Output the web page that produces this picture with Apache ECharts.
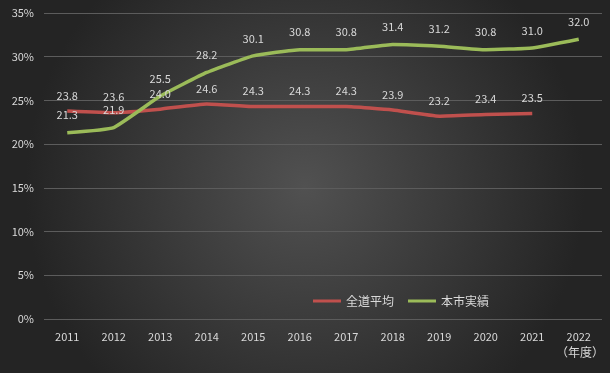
<!DOCTYPE html>
<html><head><meta charset="utf-8">
<script src="https://cdn.jsdelivr.net/npm/echarts@6/dist/echarts.min.js"></script>
<style>html,body{margin:0;padding:0;background:#2a2a2a}#c{width:610px;height:373px}</style>
</head><body><div id="c"></div>
<script>
const categories = ['2011','2012','2013','2014','2015','2016','2017','2018','2019','2020','2021','2022'];
const prefAvg = [23.8,23.6,24.0,24.6,24.3,24.3,24.3,23.9,23.2,23.4,23.5,null];
const cityActual = [21.3,21.9,25.5,28.2,30.1,30.8,30.8,31.4,31.2,30.8,31.0,32.0];
const yTicks = [0,5,10,15,20,25,30,35];
const seriesNames = ['全道平均','本市実績'];
const unitLabel = '（年度）';

const chart = echarts.init(document.getElementById('c'));
const txt = '#d9d9d9';
const font = '"Noto Sans CJK JP", "Noto Sans", sans-serif';
chart.setOption({
  animation:false,
  backgroundColor:{type:'radial',x:0.5,y:0.5,r:0.75,colorStops:[{offset:0,color:'#515151'},{offset:1,color:'#242424'}]},
  textStyle:{fontFamily:font},
  grid:{left:44,right:8,top:13,bottom:54},
  legend:{
    left:308, top:290, itemWidth:28, itemHeight:3, itemGap:14,
    icon:'rect',
    textStyle:{color:txt,fontSize:12,fontFamily:font},
    data:seriesNames
  },
  xAxis:{
    type:'category', data:categories, boundaryGap:true,
    axisLine:{show:false}, axisTick:{show:false},
    axisLabel:{color:txt,fontSize:11,margin:12,fontFamily:font}
  },
  yAxis:{
    type:'value', min:yTicks[0], max:yTicks[yTicks.length-1], interval:5,
    axisLine:{show:false}, axisTick:{show:false},
    axisLabel:{color:txt,fontSize:11,margin:10,formatter:v=>v+'%',fontFamily:font},
    splitLine:{lineStyle:{color:'#5c5c5c',width:1}}
  },
  graphic:[{type:'text',right:6,top:346,style:{text:unitLabel,fill:txt,fontSize:12,fontFamily:font}}],
  series:[
    {name:seriesNames[0],type:'line',data:prefAvg,smooth:0.12,symbol:'circle',symbolSize:0.01,showSymbol:true,
     lineStyle:{color:'#C0504D',width:3.5},itemStyle:{color:'#C0504D'},
     label:{show:true,position:'top',distance:10,color:txt,fontSize:11,formatter:p=>p.value==null?'':p.value.toFixed(1)}},
    {name:seriesNames[1],type:'line',data:cityActual,smooth:0.12,symbol:'circle',symbolSize:0.01,showSymbol:true,
     lineStyle:{color:'#9BBB59',width:3.5},itemStyle:{color:'#9BBB59'},
     label:{show:true,position:'top',distance:12,color:txt,fontSize:11,formatter:p=>p.value.toFixed(1)}}
  ]
});
</script></body></html>
